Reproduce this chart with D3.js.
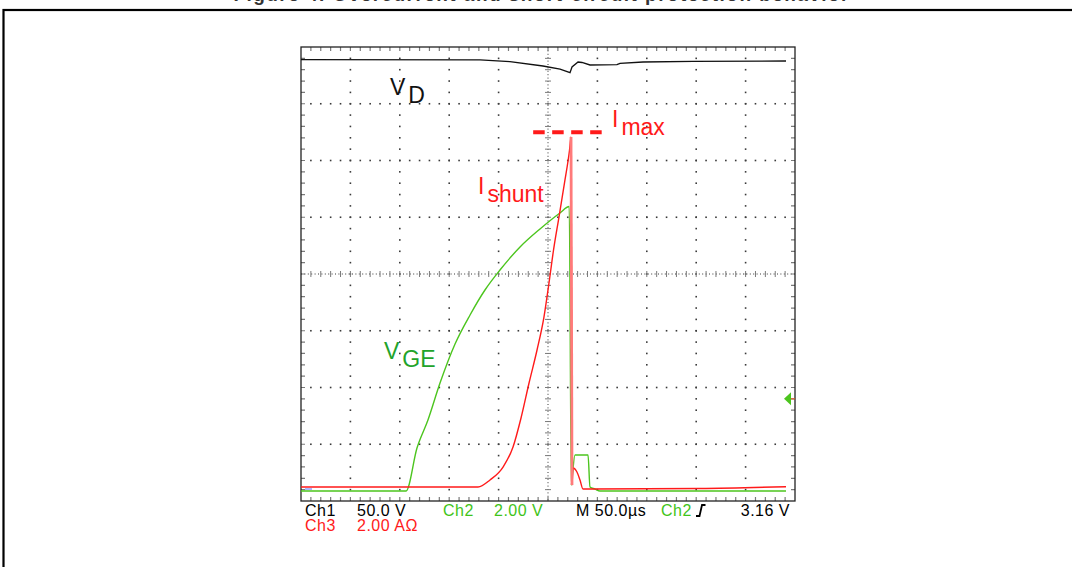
<!DOCTYPE html>
<html>
<head>
<meta charset="utf-8">
<script src="https://cdn.jsdelivr.net/npm/d3@7"></script>
<style>
    html, body { margin: 0; padding: 0; background: #fff; }
    svg { display: block; }
    text { font-family: "Liberation Sans", Arial, sans-serif; }
</style>
</head>
<body>
<div id="chart"></div>
<script>
// scope screen: 10 x 8 divisions, 50 us per division
const timeDomain = [0, 500];
const divDomain = [-4, 4];
const usPerDiv = 50;
const minorPerDiv = 5;

// traces as [time (us), screen divisions]
const vdTrace = [
    [0, 3.776], [181.2, 3.774], [211.5, 3.741], [244.9, 3.665], [262.2, 3.612],
    [272.3, 3.547], [274.3, 3.648], [280.4, 3.736], [284.4, 3.727], [292.5, 3.683],
    [319.8, 3.688], [322.9, 3.713], [346.2, 3.736], [396.8, 3.748], [490.9, 3.753]
];

const vgeTrace = [
    [0, -3.824], [106.3, -3.824], [117.4, -3.066], [128.5, -2.573], [140.7, -1.921],
    [155.9, -1.233], [171.1, -0.722], [186.2, -0.282], [201.4, 0.070], [221.7, 0.476],
    [241.9, 0.793], [262.1, 1.075], [271.5, 1.190], [273.6, -3.718], [274.4, -3.595],
    [277.3, -3.189], [290.5, -3.189], [292.5, -3.753], [297.6, -3.789], [302.6, -3.824],
    [490.9, -3.824]
];

const ishuntTrace = [
    [0, -3.753], [179.2, -3.753], [191.3, -3.630], [204.5, -3.401], [214.6, -3.048],
    [222.7, -2.537], [230.8, -1.921], [238.9, -1.339], [245.9, -0.758], [251.0, -0.159],
    [255.6, 0.423], [261.1, 1.004], [266.7, 1.604], [271.8, 2.185], [273.3, 2.414],
    [274.3, -3.718], [275.3, -3.419], [279.3, -3.489], [282.4, -3.630], [285.4, -3.789],
    [294.5, -3.789], [403.8, -3.780], [490.9, -3.748]
];

// Imax marker (dashed) and CH2 trigger level, in the same units
const imaxLevel = 2.5;
const imaxSpan = [235, 305];
const triggerLevel = -2.2;

// status line under the screen
const statusRow1 = ["Ch1", "50.0 V", "Ch2", "2.00 V", "M 50.0\u00b5s", "Ch2", "3.16 V"];
const statusRow2 = ["Ch3", "2.00 A\u03a9"];

const titleText = "Figure 4. Overcurrent and short-circuit protection behavior";

const colors = {
    vd: "#111111",
    vge: "#4cc51e",
    ishunt: "#ff1a1a",
    vgeLabel: "#22a32a",
    grid: "#3a3a3a",
    tick: "#7a7a7a"
};

const W = 1072, H = 567;
const plot = {left: 301, right: 795, top: 47, bottom: 501};

const svg = d3.select("#chart").append("svg")
    .attr("width", W)
    .attr("height", H);

// caption sits mostly above the page edge, frame below it
svg.append("text")
    .attr("x", 541)
    .attr("y", 1)
    .attr("text-anchor", "middle")
    .attr("font-size", 19)
    .attr("font-weight", "bold")
    .attr("fill", "#333")
    .attr("textLength", 615)
    .attr("lengthAdjust", "spacing")
    .text(titleText);

svg.append("rect")
    .attr("x", 3.5).attr("y", 10)
    .attr("width", 1100).attr("height", 600)
    .attr("fill", "none")
    .attr("stroke", "#000")
    .attr("stroke-width", 2.2);

const x = d3.scaleLinear().domain(timeDomain).range([plot.left, plot.right]);
const y = d3.scaleLinear().domain(divDomain).range([plot.bottom, plot.top]);

const majorT = d3.range(timeDomain[0] + usPerDiv, timeDomain[1], usPerDiv);
const majorV = d3.range(divDomain[0] + 1, divDomain[1], 1);
const minorT = d3.range(timeDomain[0], timeDomain[1] + 0.01, usPerDiv / minorPerDiv);
const minorV = d3.range(divDomain[0], divDomain[1] + 0.01, 1 / minorPerDiv);
const centerT = (timeDomain[0] + timeDomain[1]) / 2;

const grid = svg.append("g");

// dotted graticule lines
majorT.filter(t => t !== centerT).forEach(t => {
    grid.selectAll(null)
        .data(minorV.slice(1, -1))
        .enter().append("rect")
        .attr("x", x(t) - 0.8).attr("y", v => y(v) - 0.8)
        .attr("width", 1.6).attr("height", 1.6)
        .attr("fill", colors.grid);
});
majorV.filter(v => v !== 0).forEach(v => {
    grid.selectAll(null)
        .data(minorT.slice(1, -1))
        .enter().append("rect")
        .attr("x", t => x(t) - 0.8).attr("y", y(v) - 0.8)
        .attr("width", 1.6).attr("height", 1.6)
        .attr("fill", colors.grid);
});

// center cross with minor ticks
grid.append("line")
    .attr("x1", x(centerT)).attr("x2", x(centerT))
    .attr("y1", plot.top).attr("y2", plot.bottom)
    .attr("stroke", colors.grid).attr("stroke-width", 1)
    .attr("stroke-dasharray", "1,2.4");
grid.append("line")
    .attr("x1", plot.left).attr("x2", plot.right)
    .attr("y1", y(0)).attr("y2", y(0))
    .attr("stroke", colors.grid).attr("stroke-width", 1)
    .attr("stroke-dasharray", "1,2.4");
grid.selectAll(null)
    .data(minorV.slice(1, -1))
    .enter().append("line")
    .attr("x1", x(centerT) - 3).attr("x2", x(centerT) + 3)
    .attr("y1", v => y(v)).attr("y2", v => y(v))
    .attr("stroke", colors.tick).attr("stroke-width", 1);
grid.selectAll(null)
    .data(minorT.slice(1, -1))
    .enter().append("line")
    .attr("x1", t => x(t)).attr("x2", t => x(t))
    .attr("y1", y(0) - 3).attr("y2", y(0) + 3)
    .attr("stroke", colors.tick).attr("stroke-width", 1);

// edge ticks
grid.selectAll(null)
    .data(minorT.slice(1, -1))
    .enter().append("path")
    .attr("d", t => `M${x(t)},${plot.top}v4M${x(t)},${plot.bottom}v-4`)
    .attr("stroke", colors.tick).attr("stroke-width", 1.2);
grid.selectAll(null)
    .data(minorV.slice(1, -1))
    .enter().append("path")
    .attr("d", v => `M${plot.left},${y(v)}h4M${plot.right},${y(v)}h-4`)
    .attr("stroke", colors.tick).attr("stroke-width", 1.2);

svg.append("rect")
    .attr("x", plot.left).attr("y", plot.top)
    .attr("width", plot.right - plot.left)
    .attr("height", plot.bottom - plot.top)
    .attr("fill", "none")
    .attr("stroke", "#222")
    .attr("stroke-width", 1.3);

// traces
const line = d3.line()
    .x(d => x(d[0]))
    .y(d => y(d[1]));
const smooth = d3.line()
    .curve(d3.curveMonotoneX)
    .x(d => x(d[0]))
    .y(d => y(d[1]));

svg.append("path")
    .datum(vdTrace)
    .attr("fill", "none")
    .attr("stroke", colors.vd)
    .attr("stroke-width", 1.3)
    .attr("d", line);

svg.append("path")
    .datum(vgeTrace)
    .attr("fill", "none")
    .attr("stroke", colors.vge)
    .attr("stroke-width", 1.4)
    .attr("d", smooth);

svg.append("path")
    .datum(ishuntTrace)
    .attr("fill", "none")
    .attr("stroke", colors.ishunt)
    .attr("stroke-width", 1.4)
    .attr("d", smooth);

// the fast fall after the peak shows up pale on the screen
const peakIdx = d3.maxIndex(ishuntTrace, d => d[1]);
svg.append("path")
    .datum(ishuntTrace.slice(peakIdx, peakIdx + 2))
    .attr("fill", "none")
    .attr("stroke", "#ff7a7a")
    .attr("stroke-width", 2.8)
    .attr("d", line);

// Imax dashed marker
svg.append("line")
    .attr("x1", x(imaxSpan[0])).attr("x2", x(imaxSpan[1]))
    .attr("y1", y(imaxLevel)).attr("y2", y(imaxLevel))
    .attr("stroke", colors.ishunt)
    .attr("stroke-width", 4)
    .attr("stroke-dasharray", "11.5,7.5");

// trigger level marker on the right edge
const ty = y(triggerLevel);
svg.append("path")
    .attr("d", `M${plot.right - 11},${ty}L${plot.right - 4},${ty - 6.5}L${plot.right - 4},${ty + 6.5}Z`)
    .attr("fill", colors.vge);
svg.append("line")
    .attr("x1", plot.right - 4).attr("x2", plot.right)
    .attr("y1", ty).attr("y2", ty)
    .attr("stroke", "#e06030").attr("stroke-width", 1.2);

// ch1 ground marker remnant
svg.append("line")
    .attr("x1", plot.left + 4).attr("x2", plot.left + 11)
    .attr("y1", y(vgeTrace[0][1]) - 2).attr("y2", y(vgeTrace[0][1]) - 2)
    .attr("stroke", "#8fa0ff").attr("stroke-width", 1.5);

// trace labels
function label(px, py, main, sub, color) {
    const t = svg.append("text")
        .attr("x", px).attr("y", py)
        .attr("font-size", 23)
        .attr("fill", color)
        .text(main);
    t.append("tspan")
        .attr("dx", 3).attr("dy", 8)
        .text(sub);
}
label(390, 95, "V", "D", colors.vd);
label(612, 127, "I", "max", colors.ishunt);
label(478, 194, "I", "shunt", colors.ishunt);
label(384, 359, "V", "GE", colors.vgeLabel);

// status line
const statusGreen = "#3fc41a";
const row1 = svg.append("g")
    .attr("font-size", 16)
    .attr("letter-spacing", 0.5);
const row1X = [305, 357, 443, 494, 576, 661, 790];
const row1Color = ["#000", "#000", statusGreen, statusGreen, "#000", statusGreen, "#000"];
statusRow1.forEach((s, i) => {
    row1.append("text")
        .attr("x", row1X[i]).attr("y", 516)
        .attr("text-anchor", i === statusRow1.length - 1 ? "end" : "start")
        .attr("fill", row1Color[i])
        .text(s);
});
// rising edge trigger glyph
row1.append("path")
    .attr("d", "M696,516h3.5l2.5,-11h3.5")
    .attr("fill", "none")
    .attr("stroke", "#000")
    .attr("stroke-width", 1.8);

const row2 = svg.append("g")
    .attr("font-size", 16)
    .attr("letter-spacing", 0.5)
    .attr("fill", "#ff1a1a");
const row2X = [305, 357];
statusRow2.forEach((s, i) => {
    row2.append("text")
        .attr("x", row2X[i]).attr("y", 531)
        .text(s);
});
</script>
</body>
</html>
